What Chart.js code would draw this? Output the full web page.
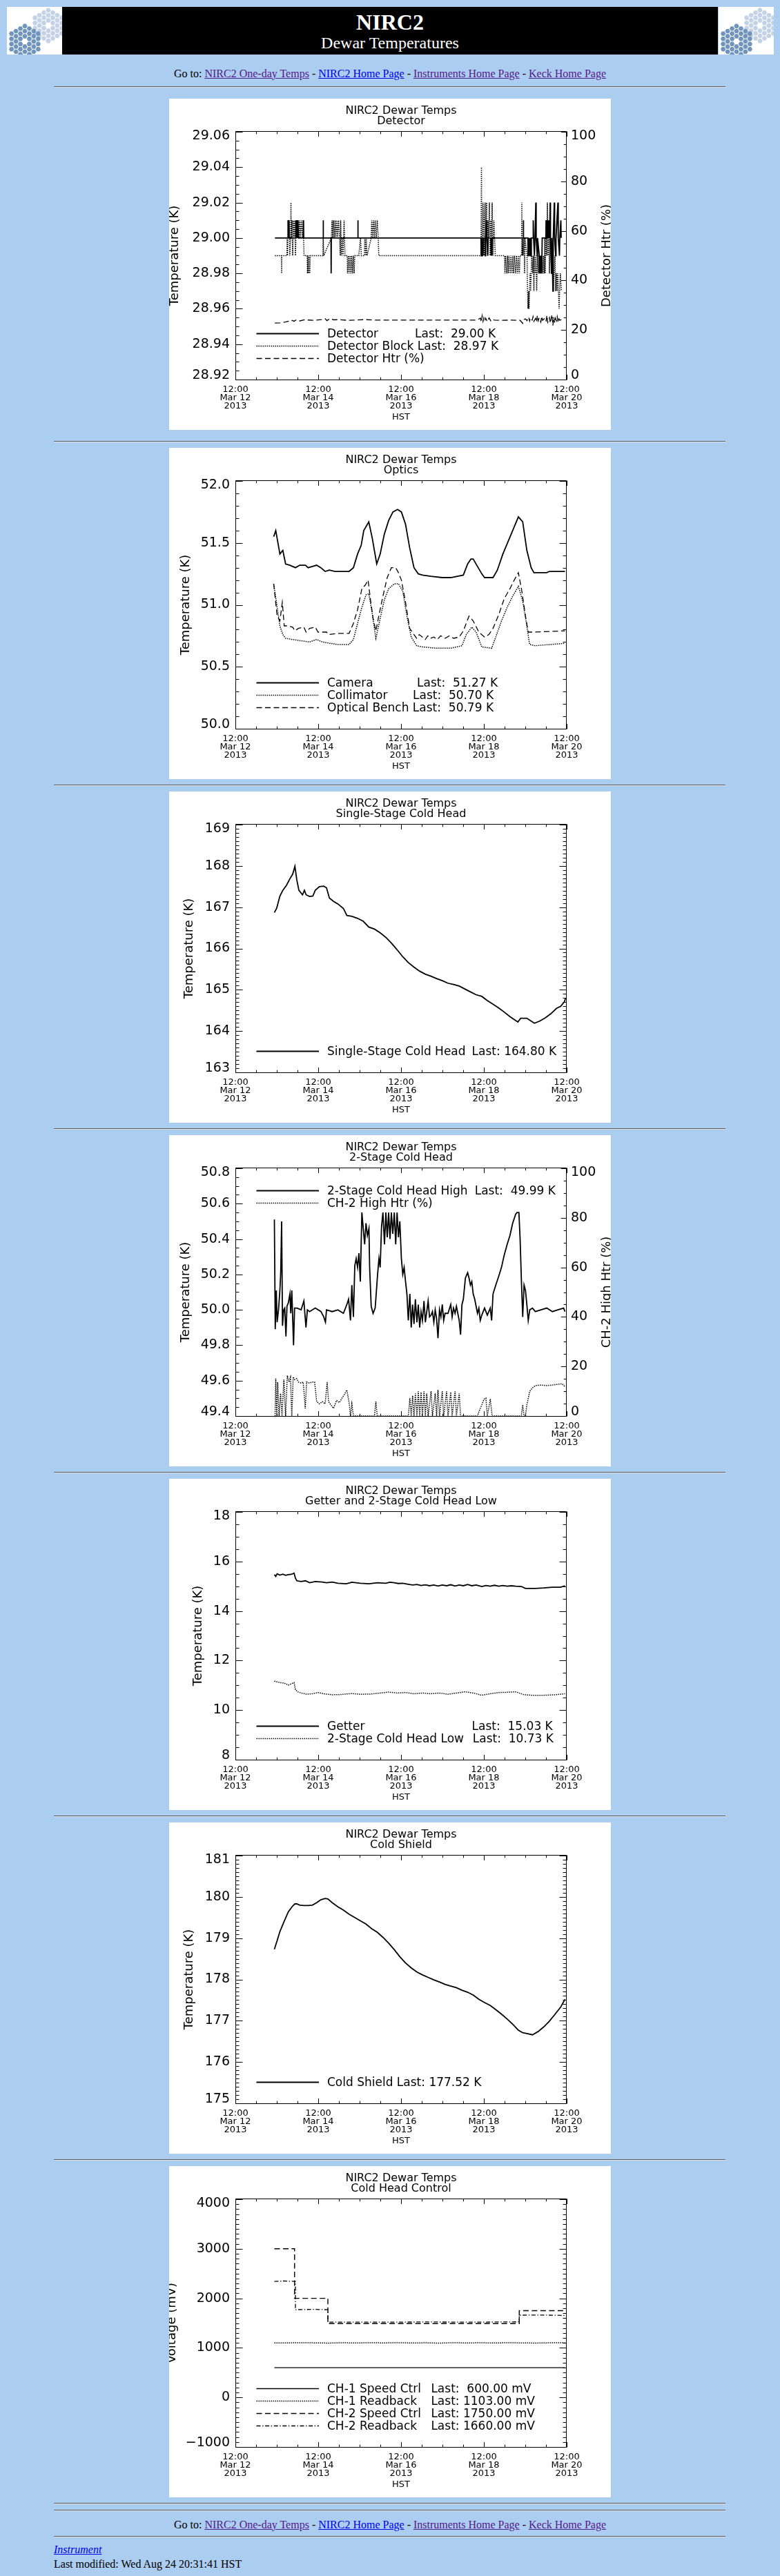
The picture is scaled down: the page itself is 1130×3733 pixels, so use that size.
<!DOCTYPE html>
<html>
<head>
<meta charset="utf-8">
<title>NIRC2 Dewar Temperatures</title>
<script src="https://cdn.jsdelivr.net/npm/chart.js@4.4.1/dist/chart.umd.min.js"></script>
<style>
  html, body { margin: 0; padding: 0; }
  body { background: #abcdef; width: 1130px; height: 3733px; position: relative; overflow: hidden;
         font-family: "Liberation Serif", "Times New Roman", serif; font-size: 16px; color: #000; }
  .logo { position: absolute; top: 10px; width: 80px; height: 69px; background: #fff; overflow: hidden; }
  .bar { position: absolute; left: 90px; top: 10px; width: 950px; height: 69px; background: #000; color: #fff; }
  .bar div { position: absolute; left: 0; width: 100%; text-align: center; white-space: nowrap; }
  .t1 { top: 5.5px; font-size: 32px; line-height: 32px; font-weight: bold; }
  .t2 { top: 40px; font-size: 24px; line-height: 24px; }
  .goto { position: absolute; left: 0; width: 1130px; text-align: center; line-height: 18px; white-space: nowrap; }
  a { color: #0000ee; }
  a.v { color: #551a8b; }
  .hr { position: absolute; left: 78px; width: 973px; height: 0; border-top: 1px solid #5c5c5c; border-bottom: 1px solid #e2e2e2; }
  .panel { position: absolute; left: 245px; width: 640px; height: 480px; background: #fff; }
  .panel canvas { display: block; }
  .foot { position: absolute; left: 78px; line-height: 18px; white-space: nowrap; }
</style>
</head>
<body>

<div class="logo" id="logoL" style="left:10px"></div>
<div class="bar">
  <div class="t1">NIRC2</div>
  <div class="t2">Dewar Temperatures</div>
</div>
<div class="logo" id="logoR" style="left:1041px"></div>

<div class="goto" style="top:97.6px">Go to: <a class="v" href="#">NIRC2 One-day Temps</a> - <a href="#">NIRC2 Home Page</a> - <a class="v" href="#">Instruments Home Page</a> - <a class="v" href="#">Keck Home Page</a></div>
<div class="hr" style="top:125px"></div>

<div class="panel" style="top:143px"><canvas id="c1" width="640" height="480"></canvas></div>
<div class="hr" style="top:639px"></div>
<div class="panel" style="top:649px"><canvas id="c2" width="640" height="480"></canvas></div>
<div class="hr" style="top:1137px"></div>
<div class="panel" style="top:1147px"><canvas id="c3" width="640" height="480"></canvas></div>
<div class="hr" style="top:1635px"></div>
<div class="panel" style="top:1645px"><canvas id="c4" width="640" height="480"></canvas></div>
<div class="hr" style="top:2133px"></div>
<div class="panel" style="top:2143px"><canvas id="c5" width="640" height="480"></canvas></div>
<div class="hr" style="top:2631px"></div>
<div class="panel" style="top:2641px"><canvas id="c6" width="640" height="480"></canvas></div>
<div class="hr" style="top:3129px"></div>
<div class="panel" style="top:3139px"><canvas id="c7" width="640" height="480"></canvas></div>
<div class="hr" style="top:3627px"></div>
<div class="hr" style="top:3637px"></div>

<div class="goto" style="top:3649.6px">Go to: <a class="v" href="#">NIRC2 One-day Temps</a> - <a href="#">NIRC2 Home Page</a> - <a class="v" href="#">Instruments Home Page</a> - <a class="v" href="#">Keck Home Page</a></div>
<div class="hr" style="top:3675px"></div>
<div class="foot" style="top:3686px"><a href="#"><i>Instrument</i></a></div>
<div class="foot" style="top:3706.6px">Last modified: Wed Aug 24 20:31:41 HST</div>

<script>
/* ─── NIRC2 dewar temperature plots ─────────────────────────── */

const FONT = '"DejaVu Sans", Verdana, sans-serif';

// x axis: hours after 12:00 HST, Mar 12 2013
const X_TICKS = [0, 48, 96, 144, 192];
const X_TICK_LABELS = [
  ['12:00', 'Mar 12', '2013'],
  ['12:00', 'Mar 14', '2013'],
  ['12:00', 'Mar 16', '2013'],
  ['12:00', 'Mar 18', '2013'],
  ['12:00', 'Mar 20', '2013']
];
const HTR_TICKS = [0, 20, 40, 60, 80, 100];

// ── Detector ──
const DETECTOR_TICKS = [28.92, 28.94, 28.96, 28.98, 29.00, 29.02, 29.04, 29.06];
const DETECTOR_LEGEND = ['Detector', 'Detector Block', 'Detector Htr (%)'];
const DETECTOR_LAST = ['Last:  29.00 K', 'Last:  28.97 K', ''];
const DETECTOR = [
  [22.9,29.00],[30.4,29.00],[30.5,29.01],[30.6,29.00],[31.0,29.01],[31.2,29.00],
  [34.8,29.00],[34.9,29.01],[35.1,29.00],[35.6,29.01],[35.8,29.00],[36.3,29.01],[36.5,29.00],
  [39.4,29.00],[39.5,29.01],[39.6,29.00],[50.8,29.00],[50.9,29.01],[51.0,29.00],
  [55.4,29.00],[55.5,28.98],[55.6,29.00],[70.9,29.00],[71.0,29.01],[71.1,29.00],
  [142.3,29.00],[142.4,28.99],[142.7,29.00],[142.9,28.99],[143.2,29.00],[143.5,28.99],[143.8,29.00],
  [144.7,29.00],[144.8,28.99],[145.0,29.00],[145.5,29.01],[145.7,29.00],[146.3,28.99],[146.5,29.00],
  [148.0,29.00],[148.1,28.99],[148.3,29.00],[148.6,28.99],[148.8,29.00],
  [166.8,29.00],[166.9,29.01],[167.0,29.00],
  [169.5,29.00],[169.6,28.99],[169.8,29.00],[170.1,28.99],[170.4,29.00],[170.8,28.99],[171.0,29.00],[171.3,28.99],[171.5,29.00],
  [172.5,29.00],[172.6,29.01],[172.8,29.00],[173.3,28.99],[173.6,29.00],[174.1,29.02],[174.3,29.00],[174.9,28.99],[175.1,29.00],
  [176.1,28.99],[176.3,28.98],[176.6,28.99],[176.9,28.98],[177.2,28.99],[177.5,28.98],[177.8,29.00],
  [179.9,29.00],[180.1,29.01],[180.4,29.00],[180.6,29.01],[180.9,29.00],[181.2,29.01],[181.5,29.00],[181.8,29.01],[182.1,29.00],[182.4,29.02],[182.6,29.00],
  [183.2,28.98],[183.4,29.00],[184.0,28.97],[184.2,29.00],[184.8,29.02],[185.0,29.00],[185.6,28.99],[185.8,29.00],
  [186.9,29.02],[187.1,29.00],[187.8,28.99],[188.0,29.00],[188.6,29.01],[188.8,29.00],[188.9,29.00]
];
const DETECTOR_BLOCK = [
  [22.9,28.99],[26.7,28.99],[26.8,28.98],[26.9,28.99],[29.9,28.99],[30.0,29.00],[30.2,28.99],
  [30.6,29.01],[30.8,29.00],[31.2,29.01],[31.5,28.99],[32.0,29.00],[32.2,29.02],[32.4,29.00],[32.8,29.01],[33.2,28.99],
  [33.6,29.01],[34.0,29.00],[34.4,29.01],[34.8,28.99],[35.4,29.01],[35.8,29.00],[36.2,29.01],[36.8,29.00],[37.2,29.01],
  [37.6,29.00],[38.2,29.01],[38.8,29.00],[39.2,29.01],[39.8,28.99],
  [41.6,28.99],[41.8,28.98],[42.1,28.99],[42.4,28.98],[42.8,28.99],[43.1,28.98],[43.4,28.99],
  [50.7,28.99],[50.9,29.00],[51.2,28.99],
  [55.6,29.00],[56.0,29.01],[56.4,29.00],[56.8,29.01],[57.3,29.00],[57.8,29.01],[58.2,29.00],[58.8,29.01],[59.2,29.00],
  [59.8,29.01],[60.4,29.00],[60.8,28.99],[61.0,29.01],[61.5,28.99],[62.0,29.00],[62.4,28.99],[63.0,29.01],[63.5,28.99],
  [64.8,28.99],[65.0,28.98],[65.5,28.99],[65.9,28.98],[66.4,28.99],[66.9,28.98],[67.3,28.99],[67.8,28.98],[68.3,28.99],[68.8,28.98],[69.2,28.99],
  [71.5,28.99],[72.5,29.00],[73.0,28.99],[74.8,28.99],[75.0,29.00],[75.6,28.99],[75.8,29.00],[76.3,28.99],
  [78.7,29.00],[79.0,29.01],[79.5,29.00],[80.0,29.01],[80.5,29.00],[81.0,29.01],[81.6,29.00],[82.2,29.01],[82.8,29.00],[83.1,28.99],
  [142.3,28.99],[142.6,29.04],[142.8,28.99],[143.2,29.00],[143.5,29.02],[143.8,29.01],[144.1,28.99],[144.4,29.01],[144.7,29.02],
  [145.0,29.00],[145.3,29.01],[145.6,29.02],[145.9,28.99],[146.3,29.01],[146.7,29.00],[147.2,29.02],[147.6,28.99],[148.0,29.01],
  [148.4,29.00],[148.8,29.02],[149.2,28.99],[149.8,29.01],[150.2,29.00],[150.6,28.99],
  [156.0,28.99],[156.2,28.98],[156.5,28.99],[157.3,28.98],[157.6,28.99],[158.2,28.98],[158.5,28.99],[159.3,28.98],[159.6,28.99],
  [160.3,28.98],[160.6,28.99],[161.3,28.98],[161.6,28.99],[162.5,28.98],[162.8,28.99],[163.6,28.98],[163.9,28.99],[164.6,28.98],[164.9,28.99],
  [165.8,28.99],[166.0,29.02],[166.2,28.99],[166.5,29.00],[166.7,28.99],[167.3,29.00],[167.6,28.98],[167.9,29.00],
  [169.0,28.99],[169.3,28.97],[169.6,28.96],[169.9,28.97],[170.2,28.96],[170.5,28.97],[170.8,28.98],[171.1,28.97],[171.4,28.98],[171.7,28.99],
  [172.3,28.98],[172.6,28.99],[173.0,28.97],[173.3,28.99],[173.7,28.98],[174.1,28.99],[174.6,28.97],[175.0,28.99],
  [175.6,28.98],[175.9,28.99],[176.3,28.98],[176.7,28.99],[177.3,28.98],[177.7,28.99],[178.2,28.98],[178.6,28.99],
  [179.0,28.98],[179.3,29.00],[179.6,28.98],[180.0,29.01],[180.4,28.99],[180.8,29.02],[181.2,28.99],[181.6,29.01],[182.0,28.98],[182.4,29.00],[182.8,28.99],
  [183.3,28.98],[183.7,28.99],[184.3,28.97],[184.7,28.98],[185.2,28.99],[185.6,28.97],[186.0,28.98],[186.4,28.97],[186.8,28.98],
  [187.2,28.97],[187.6,28.96],[187.9,28.97],[188.3,28.98],[188.9,28.97]
];
const DETECTOR_HTR = [
  [22.9,22.8],[26,22.9],[29,23.2],[31,23.6],[32,23.4],[33,23.9],[34,23.5],[35,24.0],[37,23.6],[40,24.1],[45,23.9],
  [50,24.2],[52,24.6],[53,23.8],[55,24.6],[57,24.1],[60,24.2],[65,23.9],[70,24.0],[75,24.2],[80,24.0],[90,24.0],
  [100,24.0],[110,24.0],[120,24.0],[130,24.0],[140,24.0],[142,24.8],[142.5,23.2],[143,25.7],[143.5,23.5],[144,24.9],
  [144.5,23.6],[145,24.8],[146,23.4],[147,24.9],[148,23.7],[149,24.3],[150,24.0],[155,23.9],[160,24.0],[165,23.9],
  [166.5,22.7],[167,24.1],[168,24.5],[169,23.8],[170,25.2],[170.5,23.6],[171,24.9],[172,24.0],[172.5,25.4],[173,23.5],
  [174,24.7],[174.5,23.2],[175,25.8],[175.5,23.7],[176,24.9],[177,23.2],[177.5,25.5],[178,23.9],[179,24.6],[180,23.4],
  [180.5,25.9],[181,23.1],[182,25.0],[182.5,22.8],[183,24.7],[183.5,26.2],[184,21.8],[184.5,25.2],[185,22.9],[185.5,24.8],
  [186,23.7],[186.5,25.4],[187,23.0],[187.5,24.5],[188,23.9],[188.9,24.2]
];

// ── Optics ──
const OPTICS_TICKS = [50.0, 50.5, 51.0, 51.5, 52.0];
const OPTICS_LEGEND = ['Camera', 'Collimator', 'Optical Bench'];
const OPTICS_LAST = ['Last:  51.27 K', 'Last:  50.70 K', 'Last:  50.79 K'];
const CAMERA = [
  [22.2,51.55],[23.4,51.60],[25.8,51.41],[27.5,51.44],[29.1,51.33],[31.6,51.32],[34.8,51.30],[37.3,51.32],[40.6,51.32],
  [42.2,51.30],[44.6,51.31],[47.1,51.32],[49.5,51.30],[52.0,51.27],[54.5,51.28],[57.7,51.27],[61.0,51.27],[65.9,51.27],
  [68.4,51.30],[70.8,51.41],[72.9,51.48],[74.4,51.60],[77.3,51.67],[79.3,51.54],[81.9,51.33],[83.9,51.41],[86.3,51.57],
  [88.8,51.68],[91.3,51.75],[94.0,51.77],[96.2,51.75],[98.6,51.65],[101.0,51.46],[103.5,51.30],[106.0,51.25],[108.4,51.24],
  [113.3,51.23],[119.9,51.22],[124.8,51.22],[132.1,51.24],[134.6,51.33],[136.5,51.37],[137.8,51.37],[140.3,51.31],
  [142.8,51.25],[144.4,51.22],[149.3,51.22],[151.8,51.28],[155.0,51.41],[158.3,51.52],[161.6,51.63],[164.0,51.71],
  [166.5,51.67],[168.9,51.44],[171.4,51.30],[173.0,51.26],[180.4,51.26],[182.0,51.27],[191.0,51.27]
];
const COLLIMATOR = [
  [22.2,51.17],[24.2,50.98],[25.8,50.83],[27.5,50.76],[29.1,50.73],[33.2,50.72],[38.1,50.71],[43.0,50.70],[47.1,50.72],
  [50.4,50.70],[54.5,50.69],[59.4,50.68],[65.9,50.68],[68.4,50.72],[70.8,50.85],[73.3,50.98],[75.7,51.08],[77.3,51.09],
  [79.0,50.96],[81.4,50.73],[83.9,50.89],[86.3,51.04],[88.8,51.13],[92.1,51.17],[94.5,51.17],[97.0,51.11],[99.4,50.91],
  [101.9,50.74],[105.1,50.67],[108.4,50.66],[116.6,50.65],[124.8,50.65],[131.3,50.67],[133.8,50.76],[137.0,50.82],
  [139.5,50.78],[142.8,50.66],[148.5,50.65],[150.9,50.74],[154.2,50.87],[157.5,50.98],[160.7,51.07],[164.0,51.15],
  [166.5,51.03],[168.9,50.83],[170.5,50.68],[173.8,50.67],[191.0,50.69]
];
const BENCH = [
  [22.2,51.17],[24.2,50.91],[25.8,50.87],[27.2,51.02],[28.3,50.83],[29.9,50.83],[33.2,50.82],[34.5,50.79],[36.5,50.81],
  [39.7,50.82],[41.0,50.78],[43.0,50.81],[46.3,50.82],[47.9,50.78],[52.8,50.78],[54.0,50.76],[59.4,50.77],[65.9,50.77],
  [68.4,50.85],[70.8,50.96],[73.3,51.13],[75.3,51.16],[76.9,51.20],[78.2,51.05],[79.8,50.89],[81.4,50.79],[83.1,50.91],
  [85.5,51.07],[88.0,51.22],[90.4,51.30],[92.9,51.30],[94.5,51.26],[96.2,51.20],[98.6,51.02],[101.0,50.81],[103.5,50.76],
  [105.0,50.73],[106.5,50.76],[108.4,50.74],[110.0,50.72],[111.5,50.75],[113.0,50.73],[115.0,50.74],[117.0,50.72],
  [119.0,50.75],[121.5,50.73],[124.0,50.75],[126.5,50.73],[129.7,50.74],[132.1,50.79],[135.4,50.91],[137.8,50.87],
  [141.1,50.78],[144.4,50.74],[146.9,50.76],[149.3,50.81],[152.6,50.92],[155.8,51.05],[159.1,51.13],[161.6,51.20],
  [164.0,51.26],[166.0,51.11],[168.1,50.91],[169.7,50.78],[172.2,50.78],[191.0,50.79]
];

// ── Single-Stage Cold Head ──
const SINGLE_TICKS = [163, 164, 165, 166, 167, 168, 169];
const SINGLE_LEGEND = ['Single-Stage Cold Head'];
const SINGLE_LAST = ['Last: 164.80 K'];
const SINGLE_STAGE = [
  [22.6,166.87],[23.9,166.97],[25.8,167.27],[27.5,167.41],[29.6,167.53],[31.6,167.69],[33.2,167.80],[34.5,167.99],
  [35.6,167.66],[36.8,167.41],[38.9,167.30],[40.0,167.41],[41.0,167.30],[43.0,167.26],[44.9,167.27],[46.3,167.41],
  [48.7,167.50],[51.2,167.51],[52.8,167.47],[54.5,167.22],[56.9,167.14],[59.4,167.08],[62.6,166.97],[64.6,166.80],
  [67.5,166.78],[70.8,166.73],[74.1,166.66],[77.3,166.52],[80.6,166.47],[83.9,166.38],[87.2,166.27],[90.4,166.13],
  [93.7,165.97],[97.0,165.80],[100.2,165.66],[103.5,165.55],[106.8,165.45],[110.0,165.38],[113.3,165.33],[116.6,165.27],
  [119.9,165.22],[123.1,165.16],[126.4,165.13],[129.7,165.09],[132.9,165.02],[136.2,164.95],[139.5,164.88],[142.8,164.84],
  [146.0,164.74],[149.3,164.65],[152.6,164.56],[155.8,164.46],[159.1,164.35],[161.6,164.28],[163.7,164.22],[165.3,164.31],
  [168.9,164.31],[171.4,164.24],[173.3,164.19],[176.3,164.24],[179.6,164.32],[182.8,164.42],[186.1,164.55],[188.5,164.60],
  [190.7,164.71],[191.3,164.80]
];

// ── 2-Stage Cold Head ──
const TWO_TICKS = [49.4, 49.6, 49.8, 50.0, 50.2, 50.4, 50.6, 50.8];
const TWO_LEGEND = ['2-Stage Cold Head High', 'CH-2 High Htr (%)'];
const TWO_LAST = ['Last:  49.99 K', ''];
const TWO_STAGE = [
  [22.6,50.51],[23.1,49.89],[23.7,50.11],[24.2,49.93],[25.0,50.00],[25.8,50.11],[26.3,50.22],[26.8,50.50],[27.3,49.91],
  [28.0,50.00],[28.6,50.01],[29.3,49.85],[29.9,50.02],[30.7,50.04],[31.6,50.09],[32.1,49.98],[32.7,50.11],[33.7,49.80],
  [34.3,50.01],[35.7,50.01],[38.1,50.00],[39.7,50.05],[40.9,49.90],[41.7,50.00],[43.0,49.99],[46.3,50.01],[49.6,49.99],
  [51.2,49.96],[52.2,49.93],[52.8,50.00],[56.1,49.99],[59.4,50.00],[62.6,49.98],[64.6,50.03],[65.6,50.06],[66.7,49.94],
  [67.5,50.14],[68.4,49.96],[69.2,50.25],[70.0,50.29],[70.8,50.24],[71.6,50.32],[72.4,50.16],[73.3,50.55],[74.1,50.46],
  [74.9,50.37],[75.7,50.49],[76.5,50.42],[77.4,50.46],[77.8,50.24],[78.7,50.02],[79.8,49.98],[81.0,50.01],[81.6,50.09],
  [82.4,50.20],[83.2,50.29],[83.9,50.24],[84.7,50.47],[85.5,50.55],[86.4,50.37],[87.2,50.55],[88.0,50.41],[88.8,50.55],
  [89.6,50.40],[90.4,50.55],[91.2,50.43],[92.1,50.55],[92.9,50.37],[93.7,50.55],[94.5,50.41],[95.3,50.50],[96.2,50.29],
  [97.0,50.20],[97.8,50.24],[98.6,50.16],[99.4,50.09],[100.2,49.94],[101.1,50.09],[101.9,49.90],[102.7,50.03],[103.5,49.92],
  [104.3,50.06],[105.2,49.93],[106.0,50.03],[106.8,49.90],[107.6,49.99],[108.4,49.94],[109.3,50.05],[110.1,49.93],
  [110.9,49.99],[111.7,50.05],[112.5,49.96],[113.4,49.97],[114.2,49.99],[115.0,49.93],[115.8,50.00],[116.6,49.95],
  [117.4,49.84],[118.3,50.00],[119.1,49.96],[119.9,50.03],[120.7,49.94],[121.5,49.98],[123.2,49.98],[124.8,50.03],
  [125.6,49.96],[126.4,50.01],[127.3,49.98],[128.1,50.02],[128.9,49.98],[129.7,49.94],[130.5,49.86],[131.3,50.03],
  [132.1,50.06],[133.3,50.18],[134.6,50.21],[135.4,50.18],[136.2,50.14],[137.0,50.16],[137.8,50.09],[138.7,50.06],
  [139.5,50.02],[140.3,49.98],[141.1,50.01],[141.9,49.94],[142.8,49.97],[144.4,50.01],[146.0,49.97],[147.7,50.01],
  [148.5,49.94],[149.3,50.09],[150.9,50.14],[152.6,50.19],[154.2,50.24],[155.8,50.31],[157.5,50.37],[159.1,50.42],
  [160.7,50.49],[162.4,50.54],[163.2,50.55],[164.3,50.55],[165.0,50.40],[165.7,50.18],[166.5,49.96],[167.3,50.14],
  [168.1,50.11],[168.9,50.03],[169.7,49.94],[170.6,50.00],[172.2,50.01],[173.8,49.99],[177.1,50.00],[180.4,50.01],
  [183.7,49.99],[186.9,50.00],[190.2,50.01],[191.0,49.99]
];
const CH2_HTR = [
  [23.0,0],[23.4,15.1],[24.0,0],[24.5,13.7],[25.3,0],[26.2,9.1],[27.0,0],[28.1,14.7],[29.1,0],[30.1,16.3],[31.1,13.7],
  [31.9,15.6],[32.7,0],[33.5,15.8],[34.3,14.7],[35.5,15.1],[36.6,13.7],[38.0,13.3],[39.3,13.7],[40.5,3.1],[41.3,13.7],
  [43.0,13.3],[44.6,13.7],[45.9,13.7],[47.1,5.8],[48.7,4.9],[50.4,5.8],[52.0,4.9],[53.2,13.7],[54.0,5.8],[55.3,4.5],
  [56.9,3.1],[58.6,6.3],[60.2,5.4],[61.8,7.2],[63.5,9.1],[64.6,10.5],[66.0,4.9],[66.7,0],[67.5,4.9],[68.4,0],[80.6,0],
  [81.4,5.8],[82.2,0],[100.2,0],[101.1,7.2],[101.9,0],[102.7,8.2],[103.5,0],[104.3,9.1],[105.2,0],[106.0,10.0],[106.8,0],
  [107.6,9.6],[108.4,0],[109.3,10.0],[110.1,0],[110.9,9.1],[111.7,0],[113.4,10.0],[114.2,0],[115.8,9.1],[116.6,0],
  [117.4,10.5],[118.3,0],[119.9,10.0],[120.7,0],[122.4,10.0],[123.2,0],[124.8,9.6],[125.6,0],[127.3,10.0],[128.1,0],
  [129.7,9.1],[130.5,0],[140.3,0],[141.1,1.7],[142.8,4.5],[144.1,6.8],[145.2,7.2],[146.0,0],[147.7,6.8],[148.8,0],
  [165.7,0],[166.5,4.5],[167.3,0],[168.1,0],[168.9,4.5],[170.6,10.0],[172.2,11.4],[173.8,12.3],[177.1,12.5],[180.4,12.3],
  [183.7,12.5],[186.9,12.8],[189.3,13.0],[191.0,11.9]
];

// ── Getter and 2-Stage Cold Head Low ──
const GETTER_TICKS = [8, 10, 12, 14, 16, 18];
const GETTER_LEGEND = ['Getter', '2-Stage Cold Head Low'];
const GETTER_LAST = ['Last:  15.03 K', 'Last:  10.73 K'];
const GETTER = [
  [22.6,15.47],[23.4,15.40],[24.2,15.50],[25.8,15.45],[27.5,15.49],[29.1,15.44],[30.7,15.47],[32.4,15.48],[34.0,15.53],
  [34.8,15.33],[35.6,15.22],[38.1,15.19],[40.6,15.22],[43.0,15.14],[46.3,15.19],[50.4,15.17],[52.8,15.14],[56.1,15.17],
  [59.4,15.12],[64.3,15.10],[67.5,15.16],[72.4,15.12],[77.4,15.10],[82.3,15.14],[87.2,15.12],[89.6,15.16],[92.1,15.14],
  [94.5,15.11],[97.0,15.12],[100.2,15.08],[102.7,15.05],[105.2,15.07],[107.6,15.03],[110.1,15.06],[112.5,15.02],
  [115.0,15.05],[117.4,15.01],[119.9,15.05],[122.4,15.02],[124.8,15.06],[127.3,15.01],[129.7,15.05],[132.1,15.02],
  [134.6,15.07],[137.0,15.02],[139.5,15.05],[142.8,14.99],[145.2,15.03],[147.7,15.00],[150.1,15.04],[152.6,15.00],
  [155.0,15.03],[157.5,15.00],[160.0,15.02],[162.4,15.00],[165.7,14.99],[168.1,14.91],[170.6,14.91],[173.8,14.91],
  [178.7,14.93],[183.6,14.96],[188.5,14.96],[191.0,15.02]
];
const LOW = [
  [22.6,11.17],[24.2,11.14],[25.8,11.11],[28.3,11.09],[30.7,11.01],[32.4,11.06],[34.0,11.11],[34.8,10.83],[36.1,10.74],
  [38.1,10.69],[41.4,10.64],[44.6,10.66],[47.9,10.71],[51.2,10.66],[56.1,10.62],[61.0,10.63],[67.5,10.67],[72.4,10.64],
  [78.9,10.65],[83.9,10.69],[88.8,10.73],[93.7,10.69],[98.6,10.71],[103.5,10.66],[108.4,10.69],[113.3,10.66],[118.2,10.69],
  [123.1,10.64],[128.1,10.69],[133.0,10.74],[137.9,10.69],[142.8,10.60],[147.7,10.66],[152.6,10.71],[157.5,10.72],
  [162.4,10.74],[167.3,10.62],[172.2,10.60],[178.7,10.60],[185.3,10.62],[191.0,10.66]
];

// ── Cold Shield ──
const SHIELD_TICKS = [175, 176, 177, 178, 179, 180, 181];
const SHIELD_LEGEND = ['Cold Shield'];
const SHIELD_LAST = ['Last: 177.52 K'];
const COLD_SHIELD = [
  [22.6,178.73],[24.2,178.94],[25.8,179.16],[28.3,179.41],[30.7,179.64],[33.2,179.78],[34.5,179.83],[35.6,179.83],
  [37.3,179.80],[39.7,179.79],[42.2,179.79],[44.6,179.80],[47.1,179.86],[49.5,179.93],[52.0,179.96],[53.6,179.95],
  [56.1,179.86],[59.4,179.76],[62.6,179.68],[65.9,179.58],[69.2,179.50],[72.4,179.42],[75.7,179.34],[79.0,179.23],
  [82.3,179.14],[85.5,179.02],[88.8,178.88],[92.1,178.72],[95.3,178.55],[98.6,178.40],[101.9,178.28],[105.2,178.18],
  [108.4,178.11],[111.7,178.05],[115.0,177.99],[118.2,177.94],[121.5,177.88],[124.8,177.84],[128.0,177.80],[131.3,177.74],
  [134.6,177.69],[137.9,177.62],[141.1,177.52],[144.4,177.44],[147.7,177.37],[150.9,177.27],[154.2,177.16],[157.5,177.04],
  [160.8,176.91],[164.0,176.77],[166.5,176.71],[168.9,176.69],[172.2,176.66],[175.5,176.74],[178.7,176.85],[182.0,176.99],
  [185.3,177.16],[188.5,177.33],[191.0,177.52]
];

// ── Cold Head Control ──
const CTRL_TICKS = [-1000, 0, 1000, 2000, 3000, 4000];
const CTRL_LEGEND = ['CH-1 Speed Ctrl', 'CH-1 Readback', 'CH-2 Speed Ctrl', 'CH-2 Readback'];
const CTRL_LAST = ['Last:  600.00 mV', 'Last: 1103.00 mV', 'Last: 1750.00 mV', 'Last: 1660.00 mV'];
const CH1_SPEED = [[22.6,600],[191.0,600]];
const CH1_READBACK = [
  [22.6,1098],[30,1100],[38,1104],[46,1101],[54,1097],[62,1103],[70,1099],[78,1104],[86,1100],[94,1105],[102,1098],
  [110,1102],[118,1096],[126,1104],[134,1099],[142,1103],[150,1098],[158,1104],[166,1100],[174,1097],[182,1102],[191,1103]
];
const CH2_SPEED = [[22.6,3000],[34.3,3000],[34.3,2000],[53.6,2000],[53.6,1490],[164.5,1490],[164.5,1750],[191.0,1750]];
const CH2_READBACK = [
  [22.6,2340],[28,2350],[34.8,2340],[34.8,1770],[45,1778],[53.6,1770],[53.6,1520],[80,1518],[110,1522],[140,1519],
  [164.5,1525],[164.5,1660],[178,1662],[191.0,1655]
];

const SOLID = [], DOT = [1.5, 1.5], DASH = [8, 4.5], DASHDOT = [6, 2.6, 1.4, 2.6];
const W_SOLID = 1.8, W_DOT = 1.5, W_DASH = 1.3;

const PANELS = [
  { id: 'c1', title: ['NIRC2 Dewar Temps', 'Detector'], yTitle: 'Temperature (K)', yTitleX: 8.5,
    yMin: 28.92, yMax: 29.06, yTicks: DETECTOR_TICKS, dec: 2, minor: 0.005, y1Title: 'Detector Htr (%)',
    series: [{ data: DETECTOR, dash: SOLID, w: W_SOLID }, { data: DETECTOR_BLOCK, dash: DOT, w: W_DOT },
             { data: DETECTOR_HTR, dash: DASH, w: W_DASH, axis: 'y1' }],
    legend: DETECTOR_LEGEND, last: DETECTOR_LAST, lastX: [356, 344, 0], rowY: 339.5 },
  { id: 'c2', title: ['NIRC2 Dewar Temps', 'Optics'], yTitle: 'Temperature (K)', yTitleX: 24,
    yMin: 50, yMax: 52, yTicks: OPTICS_TICKS, dec: 1, minor: 0.1,
    series: [{ data: CAMERA, dash: SOLID, w: W_SOLID }, { data: COLLIMATOR, dash: DOT, w: W_DOT },
             { data: BENCH, dash: DASH, w: W_DASH }],
    legend: OPTICS_LEGEND, last: OPTICS_LAST, lastX: [359, 353, 351], rowY: 339.5 },
  { id: 'c3', title: ['NIRC2 Dewar Temps', 'Single-Stage Cold Head'], yTitle: 'Temperature (K)', yTitleX: 29,
    yMin: 163, yMax: 169, yTicks: SINGLE_TICKS, dec: 0, minor: 0.1,
    series: [{ data: SINGLE_STAGE, dash: SOLID, w: W_SOLID }],
    legend: SINGLE_LEGEND, last: SINGLE_LAST, lastX: [438.6], rowY: 376 },
  { id: 'c4', title: ['NIRC2 Dewar Temps', '2-Stage Cold Head'], yTitle: 'Temperature (K)', yTitleX: 24,
    yMin: 49.4, yMax: 50.8, yTicks: TWO_TICKS, dec: 1, minor: 0.05, y1Title: 'CH-2 High Htr (%)',
    series: [{ data: TWO_STAGE, dash: SOLID, w: W_SOLID }, { data: CH2_HTR, dash: DOT, w: W_DOT, axis: 'y1' }],
    legend: TWO_LEGEND, last: TWO_LAST, lastX: [442.7, 0], rowY: 79.5 },
  { id: 'c5', title: ['NIRC2 Dewar Temps', 'Getter and 2-Stage Cold Head Low'], yTitle: 'Temperature (K)', yTitleX: 42,
    yMin: 8, yMax: 18, yTicks: GETTER_TICKS, dec: 0, minor: 0.5,
    series: [{ data: GETTER, dash: SOLID, w: W_SOLID }, { data: LOW, dash: DOT, w: W_DOT }],
    legend: GETTER_LEGEND, last: GETTER_LAST, lastX: [438.6, 439.8], rowY: 357.5 },
  { id: 'c6', title: ['NIRC2 Dewar Temps', 'Cold Shield'], yTitle: 'Temperature (K)', yTitleX: 29,
    yMin: 175, yMax: 181, yTicks: SHIELD_TICKS, dec: 0, minor: 0.1,
    series: [{ data: COLD_SHIELD, dash: SOLID, w: W_SOLID }],
    legend: SHIELD_LEGEND, last: SHIELD_LAST, lastX: [329.7], rowY: 376 },
  { id: 'c7', title: ['NIRC2 Dewar Temps', 'Cold Head Control'], yTitle: 'Voltage (mV)', yTitleX: 4,
    yMin: -1000, yMax: 4000, yTicks: CTRL_TICKS, dec: 0, minor: 100,
    series: [{ data: CH1_SPEED, dash: SOLID, w: 1.4 }, { data: CH1_READBACK, dash: DOT, w: W_DOT },
             { data: CH2_SPEED, dash: DASH, w: 1.4 }, { data: CH2_READBACK, dash: DASHDOT, w: 1.3 }],
    legend: CTRL_LEGEND, last: CTRL_LAST, lastX: [379.4, 379.4, 379.4, 379.4], rowY: 321.5 }
];

function fmt(v, dec) {
  return v.toFixed(dec).replace('-', '\u2212');
}

// first/last labels are pulled inside the plot box, like IDL does
function edgeLabel(text, i, n) {
  if (i === 0) return [text, ''];
  if (i === n - 1) return ['', text];
  return text;
}

function steps(min, max, step, fn) {
  const n = Math.round((max - min) / step);
  for (let i = 0; i <= n; i++) fn(min + i * step);
}

function isMajor(v, list) {
  return list.some(t => Math.abs(t - v) < 1e-6 * Math.max(1, Math.abs(t)));
}

function framePlugin(p) {
  return {
    id: 'idlFrame',
    afterDatasetsDraw(chart) {
      const { ctx, chartArea: a, scales } = chart;
      const L = Math.round(a.left) + 0.5, R = Math.round(a.right) - 0.5;
      const T = Math.round(a.top) - 0.5, B = Math.round(a.bottom) + 0.5;
      ctx.save();
      ctx.strokeStyle = '#000';
      ctx.lineWidth = 1;
      ctx.setLineDash([]);
      ctx.beginPath();
      ctx.rect(L, T, R - L, B - T);
      steps(0, 192, 12, v => {
        const px = Math.round(scales.x.getPixelForValue(v)) + 0.5;
        const len = isMajor(v, X_TICKS) ? 7.5 : 3.8;
        ctx.moveTo(px, B); ctx.lineTo(px, B - len);
        ctx.moveTo(px, T); ctx.lineTo(px, T + len);
      });
      steps(p.yMin, p.yMax, p.minor, v => {
        const py = Math.round(scales.y.getPixelForValue(v)) + 0.5;
        const len = isMajor(v, p.yTicks) ? 10 : 5;
        ctx.moveTo(L, py); ctx.lineTo(L + len, py);
        if (!p.y1Title) { ctx.moveTo(R, py); ctx.lineTo(R - len, py); }
      });
      if (p.y1Title) {
        steps(0, 100, 5, v => {
          const py = Math.round(scales.y1.getPixelForValue(v)) + 0.5;
          const len = isMajor(v, HTR_TICKS) ? 7.7 : 3.8;
          ctx.moveTo(R, py); ctx.lineTo(R - len, py);
        });
      }
      ctx.stroke();

      // right-hand axis title reads bottom to top, as in IDL
      if (p.y1Title) {
        ctx.fillStyle = '#000';
        ctx.font = '18px ' + FONT;
        ctx.textAlign = 'center';
        ctx.textBaseline = 'middle';
        ctx.translate(634, (a.top + a.bottom) / 2);
        ctx.rotate(-Math.PI / 2);
        ctx.fillText(p.y1Title, 0, 0);
      }
      ctx.restore();
    },
    afterDraw(chart) {
      const { ctx } = chart;
      ctx.save();
      ctx.fillStyle = '#000';
      ctx.strokeStyle = '#000';
      ctx.font = '17px ' + FONT;
      ctx.textBaseline = 'alphabetic';
      ctx.textAlign = 'left';
      const gap = ctx.measureText(' ').width;
      p.legend.forEach((name, i) => {
        const y = p.rowY + i * 18;
        const s = p.series[i];
        ctx.lineWidth = s.w;
        ctx.setLineDash(s.dash);
        ctx.beginPath();
        ctx.moveTo(126.5, Math.round(y) + 0.5);
        ctx.lineTo(217, Math.round(y) + 0.5);
        ctx.stroke();
        ctx.fillText(name, 229, y + 6);
        if (p.last[i]) {
          const x = Math.max(p.lastX[i], 229 + ctx.measureText(name).width + gap);
          ctx.fillText(p.last[i], x, y + 6);
        }
      });
      ctx.restore();
    }
  };
}

function buildChart(p) {
  const noGrid = { display: false, drawTicks: false };
  const scales = {
    x: {
      type: 'linear', min: 0, max: 192,
      afterBuildTicks: s => { s.ticks = X_TICKS.map(v => ({ value: v })); },
      afterFit: s => { s.height = 73; },
      grid: noGrid, border: { display: false },
      ticks: {
        autoSkip: false, maxRotation: 0, minRotation: 0, padding: 9, color: '#000',
        font: { family: FONT, size: 13, lineHeight: '12px' },
        callback: (v, i) => X_TICK_LABELS[i]
      },
      title: { display: true, text: 'HST', color: '#000', font: { family: FONT, size: 13 },
               padding: { top: 0, bottom: 10.7 } }
    },
    y: {
      type: 'linear', position: 'left', min: p.yMin, max: p.yMax,
      afterBuildTicks: s => { s.ticks = p.yTicks.map(v => ({ value: v })); },
      afterFit: s => { s.width = 96; },
      grid: noGrid, border: { display: false },
      ticks: {
        autoSkip: false, padding: 8, color: '#000',
        font: { family: FONT, size: 19, lineHeight: '12.5px' },
        callback: (v, i, arr) => edgeLabel(fmt(v, p.dec), i, arr.length)
      },
      title: { display: true, text: p.yTitle, color: '#000', font: { family: FONT, size: 18, lineHeight: 1 },
               padding: { top: p.yTitleX - 9, bottom: 0 } }
    }
  };
  if (p.y1Title) {
    scales.y1 = {
      type: 'linear', position: 'right', min: 0, max: 100,
      afterBuildTicks: s => { s.ticks = HTR_TICKS.map(v => ({ value: v })); },
      afterFit: s => { s.width = 64; },
      grid: noGrid, border: { display: false },
      ticks: {
        autoSkip: false, padding: 6, color: '#000',
        font: { family: FONT, size: 19, lineHeight: '12.5px' },
        callback: (v, i, arr) => edgeLabel(String(v), i, arr.length)
      }
    };
  }

  new Chart(document.getElementById(p.id), {
    type: 'line',
    data: {
      datasets: p.series.map((s, i) => ({
        label: p.legend[i],
        data: s.data,
        yAxisID: s.axis || 'y',
        borderColor: '#000',
        borderWidth: s.w,
        borderDash: s.dash,
        pointRadius: 0,
        fill: false,
        tension: 0
      }))
    },
    options: {
      responsive: false,
      animation: false,
      devicePixelRatio: 1,
      events: [],
      layout: { padding: { left: 0, top: 0, bottom: 0, right: p.y1Title ? 0 : 64 } },
      scales,
      plugins: {
        legend: { display: false },
        tooltip: { enabled: false },
        title: {
          display: true, text: p.title, fullSize: false, color: '#000',
          font: { family: FONT, size: 16, weight: 'normal', lineHeight: '15px' },
          padding: { top: 10, bottom: 8 }
        }
      }
    },
    plugins: [framePlugin(p)]
  });
}

// Keck logo: two hexagonal segment mirrors
function hexLogo(el) {
  const ns = 'http://www.w3.org/2000/svg';
  const svg = document.createElementNS(ns, 'svg');
  svg.setAttribute('width', 80);
  svg.setAttribute('height', 69);
  const R = 4.3;
  [[60, 27, '#c3d2e4'], [26, 50, '#7094bb']].forEach(([cx, cy, fill]) => {
    for (let q = -3; q <= 3; q++) {
      for (let r = -3; r <= 3; r++) {
        const d = Math.max(Math.abs(q), Math.abs(r), Math.abs(q + r));
        if (d === 0 || d > 3) continue;
        const x = cx + 1.5 * R * q;
        const y = cy + Math.sqrt(3) * R * (r + q / 2);
        const pts = [];
        for (let k = 0; k < 6; k++) {
          const t = Math.PI / 3 * k;
          pts.push((x + (R - 0.6) * Math.cos(t)).toFixed(1) + ',' + (y + (R - 0.6) * Math.sin(t)).toFixed(1));
        }
        const poly = document.createElementNS(ns, 'polygon');
        poly.setAttribute('points', pts.join(' '));
        poly.setAttribute('fill', fill);
        svg.appendChild(poly);
      }
    }
  });
  el.appendChild(svg);
}

hexLogo(document.getElementById('logoL'));
hexLogo(document.getElementById('logoR'));

Chart.defaults.font.family = FONT;
Chart.defaults.color = '#000';
PANELS.forEach(buildChart);
</script>
</body>
</html>
